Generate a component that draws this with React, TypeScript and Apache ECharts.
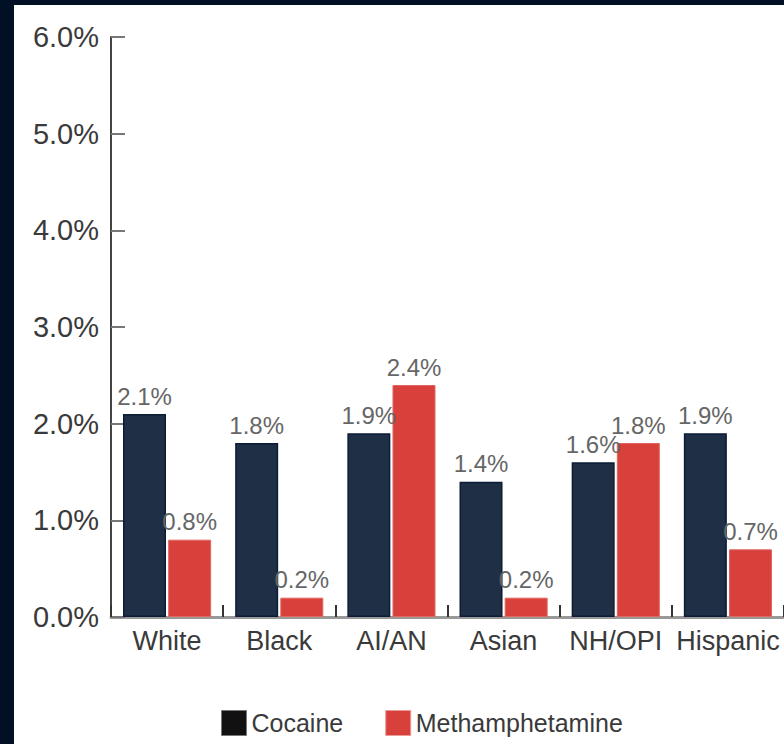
import React, { useEffect, useRef } from "react";
import * as echarts from "echarts";

const categories = ["White", "Black", "AI/AN", "Asian", "NH/OPI", "Hispanic"];
const cocaine = [2.1, 1.8, 1.9, 1.4, 1.6, 1.9];
const methamphetamine = [0.8, 0.2, 2.4, 0.2, 1.8, 0.7];
const seriesNames = ["Cocaine", "Methamphetamine"];

const FONT = "'Liberation Sans', Arial, sans-serif";

export default function App() {
  const ref = useRef<HTMLDivElement>(null);

  useEffect(() => {
    document.body.style.margin = "0";
    const chart = echarts.init(ref.current!, null, { renderer: "svg" });
    const pct = (v: number) => v.toFixed(1) + "%";
    chart.setOption({
      animation: false,
      backgroundColor: "#ffffff",
      textStyle: { fontFamily: FONT },
      grid: { left: 97, right: -3, top: 32, bottom: 127, containLabel: false },
      legend: {
        left: 202,
        top: 700,
        itemWidth: 25,
        itemHeight: 25,
        itemGap: 42,
        icon: "rect",
        textStyle: { fontSize: 25, color: "#3a3a3a", fontFamily: FONT, padding: [0, 0, 0, 0] },
        data: [
          { name: seriesNames[0], itemStyle: { color: "#111111", borderColor: "#777", borderWidth: 1 } },
          { name: seriesNames[1], itemStyle: { color: "#d8413b", borderColor: "#eb9a96", borderWidth: 1 } },
        ],
      },
      xAxis: {
        type: "category",
        data: categories,
        axisLine: { show: true, lineStyle: { color: "#999", width: 3 } },
        axisTick: { show: true, inside: true, length: 12, lineStyle: { color: "#333", width: 2 } },
        axisLabel: { fontSize: 27, color: "#3a3a3a", margin: 10, fontFamily: FONT, interval: 0 },
      },
      yAxis: {
        type: "value",
        min: 0,
        max: 6,
        interval: 1,
        splitLine: { show: false },
        axisLine: { show: true, lineStyle: { color: "#444", width: 2 } },
        axisTick: { show: true, inside: true, length: 14, lineStyle: { color: "#777", width: 2 } },
        axisLabel: { fontSize: 29, color: "#3a3a3a", margin: 12, fontFamily: FONT, formatter: pct },
      },
      series: [
        {
          name: seriesNames[0],
          type: "bar",
          data: cocaine,
          barWidth: 43,
          barGap: "5%",
          itemStyle: { color: "#1f3046", borderColor: "#0b1c34", borderWidth: 1.5 },
          label: {
            show: true,
            position: "top",
            distance: 6,
            fontSize: 24,
            color: "#666",
            fontFamily: FONT,
            formatter: (p: any) => pct(p.value),
          },
        },
        {
          name: seriesNames[1],
          type: "bar",
          data: methamphetamine,
          barWidth: 43,
          barGap: "5%",
          itemStyle: { color: "#d8413b", borderColor: "#e26660", borderWidth: 1 },
          label: {
            show: true,
            position: "top",
            distance: 6,
            fontSize: 24,
            color: "#666",
            fontFamily: FONT,
            formatter: (p: any) => pct(p.value),
          },
        },
      ],
    });
    return () => chart.dispose();
  }, []);

  return (
    <div
      style={{
        position: "fixed",
        left: 0,
        top: 0,
        width: 784,
        height: 744,
        background: "#011024",
        overflow: "hidden",
      }}
    >
      <div
        ref={ref}
        style={{ position: "absolute", left: 14, top: 5, width: 770, height: 739 }}
      />
    </div>
  );
}
